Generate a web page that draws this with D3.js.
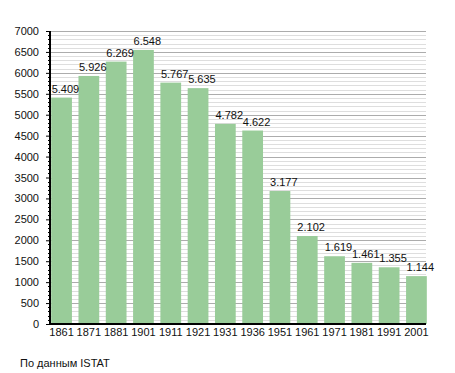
<!DOCTYPE html>
<html>
<head>
<meta charset="utf-8">
<script src="https://cdn.jsdelivr.net/npm/d3@7"></script>
<style>
  body { margin: 0; background: #fff; }
  text { font-family: "Liberation Sans", Arial, sans-serif; }
</style>
</head>
<body>
<svg id="chart" width="455" height="373"></svg>
<script>
// census years and population
const years = ["1861", "1871", "1881", "1901", "1911", "1921", "1931", "1936", "1951", "1961", "1971", "1981", "1991", "2001"];
const population = [5409, 5926, 6269, 6548, 5767, 5635, 4782, 4622, 3177, 2102, 1619, 1461, 1355, 1144];
const yTicks = [0, 500, 1000, 1500, 2000, 2500, 3000, 3500, 4000, 4500, 5000, 5500, 6000, 6500, 7000];
const source = "По данным  ISTAT";

let svg = d3.select("#chart");
let plotLeft = 50, plotRight = 426, plotTop = 31, plotBottom = 324;

let x = d3.scaleBand()
    .domain(years)
    .range([plotLeft - 1, plotRight + 3])
    .paddingInner(0.24)
    .paddingOuter(0.08);

let y = d3.scaleLinear()
    .domain([0, 7000])
    .range([plotBottom, plotTop]);

// minor grid every 100
let minor = d3.range(100, 7001, 100).filter(v => v % 500 != 0);
svg.append("g").selectAll("line")
    .data(minor)
    .join("line")
    .attr("x1", plotLeft).attr("x2", plotRight)
    .attr("y1", d => Math.round(y(d)) + 0.5)
    .attr("y2", d => Math.round(y(d)) + 0.5)
    .attr("stroke", "#dedede");

svg.append("g").selectAll("line")
    .data(yTicks.filter(v => v > 0))
    .join("line")
    .attr("x1", plotLeft).attr("x2", plotRight)
    .attr("y1", d => Math.round(y(d)) + 0.5)
    .attr("y2", d => Math.round(y(d)) + 0.5)
    .attr("stroke", "#acacac");

// bars
svg.append("g").selectAll("rect")
    .data(population)
    .join("rect")
    .attr("x", (d, i) => x(years[i]))
    .attr("width", x.bandwidth())
    .attr("y", d => y(d))
    .attr("height", d => plotBottom - y(d))
    .attr("fill", "#99cc99");

// value labels, italian style thousands separator
svg.append("g").selectAll("text")
    .data(population)
    .join("text")
    .attr("x", (d, i) => x(years[i]) + 0.5)
    .attr("y", d => y(d) - 5)
    .attr("font-size", 11)
    .attr("fill", "#111")
    .text(d => d3.format(",")(d).replace(",", "."));

// y axis
let yAxis = svg.append("g")
    .attr("transform", `translate(${plotLeft},0)`)
    .call(d3.axisLeft(y).tickValues(yTicks).tickSize(4).tickPadding(7).tickFormat(d3.format("d")));
yAxis.select(".domain").remove();
yAxis.selectAll("text").attr("font-size", 11).attr("fill", "#111").attr("font-family", null);
yAxis.selectAll(".tick line").attr("stroke", "#000");

svg.append("g").selectAll("line")
    .data(minor)
    .join("line")
    .attr("x1", plotLeft - 2).attr("x2", plotLeft)
    .attr("y1", d => Math.round(y(d)) + 0.5)
    .attr("y2", d => Math.round(y(d)) + 0.5)
    .attr("stroke", "#000");

svg.append("line")
    .attr("x1", plotLeft).attr("x2", plotLeft)
    .attr("y1", plotTop).attr("y2", plotBottom + 1)
    .attr("stroke", "#000").attr("stroke-width", 2);

// x axis
let xAxis = svg.append("g")
    .attr("transform", `translate(0,${plotBottom})`)
    .call(d3.axisBottom(x).tickSize(0).tickPadding(4));
xAxis.select(".domain").remove();
xAxis.selectAll("text").attr("font-size", 11).attr("fill", "#111").attr("font-family", null);

svg.append("line")
    .attr("x1", plotLeft - 1).attr("x2", plotRight)
    .attr("y1", plotBottom).attr("y2", plotBottom)
    .attr("stroke", "#000").attr("stroke-width", 2);

svg.append("text")
    .attr("x", 20).attr("y", 367)
    .attr("font-size", 11)
    .attr("fill", "#111")
    .text(source);
</script>
</body>
</html>
